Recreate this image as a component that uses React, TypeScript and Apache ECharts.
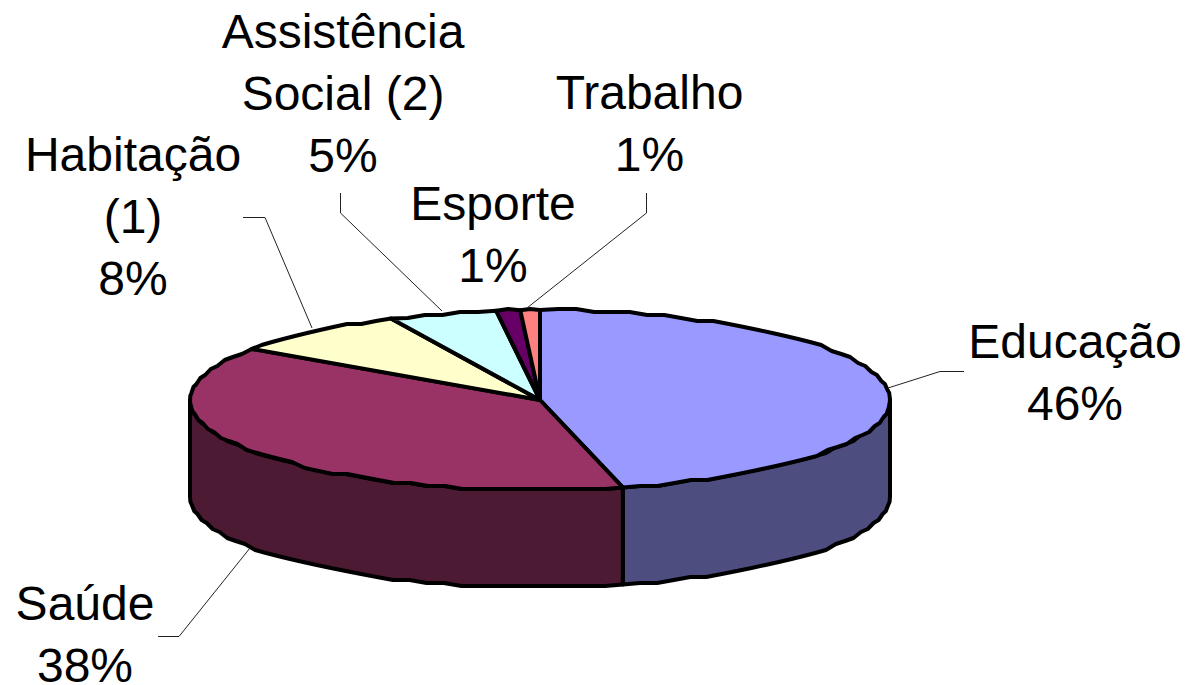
import React, { useEffect, useRef } from "react";
import * as echarts from "echarts";

const categories = ["Educação", "Saúde", "Habitação (1)", "Assistência Social (2)", "Esporte", "Trabalho"];
const values = [46.2, 38.4, 8.4, 5.0, 1.1, 0.9];
const topColors = ["#9999FF", "#993366", "#FFFFCC", "#CCFFFF", "#660066", "#FF8080"];
const wallColors = ["#4D4D80", "#4D1A33", "#808066", "#668080", "#330033", "#804040"];
const labelLines = [
  ["Educação"],
  ["Saúde"],
  ["Habitação", "(1)"],
  ["Assistência", "Social (2)"],
  ["Esporte"],
  ["Trabalho"],
];

const CX = 540, CY = 400, RX = 350, RY = 90, DEPTH = 97;
const SNAP = 3;
const labelPos = [
  [1075, 372.5], [85, 634.5], [133, 216.5], [343, 93], [493, 234], [649.5, 123],
];
const leaders = [
  [[888, 388], [940, 371.5], [964, 371.5]],
  [[158, 636.5], [179, 636.5], [250, 548]],
  [[243, 217.5], [265, 217.5], [312, 328]],
  [[340.5, 193], [340.5, 213], [442, 311]],
  [],
  [[646.5, 193], [646.5, 213], [527, 308]],
];

const total = values.reduce((a, b) => a + b, 0);
const pct = (v: number) => `${Math.round((v / total) * 100)}%`;

function arc(a: number, b: number, dy = 0): number[][] {
  const out: number[][] = [];
  const n = Math.max(1, Math.ceil((b - a) / 3));
  for (let i = 0; i <= n; i++) {
    const d = a + ((b - a) * i) / n;
    const r = (d * Math.PI) / 180;
    const x = CX + RX * Math.sin(r);
    const y = CY - RY * Math.cos(r);
    const snapped = i === 0 || i === n ? y : Math.round(y / SNAP) * SNAP;
    out.push([x, snapped + dy]);
  }
  return out;
}

export default function App() {
  const ref = useRef<HTMLDivElement>(null);
  useEffect(() => {
    document.body.style.margin = "0";
    const chart = echarts.init(ref.current!, undefined, { renderer: "svg" });
    const strokeStyle = { stroke: "#000", lineWidth: 4, lineJoin: "round" as const };
    const renderItem = (params: any, api: any) => {
      const i = params.dataIndex;
      const v = api.value(0);
      let before = 0;
      for (let k = 0; k < i; k++) before += values[k];
      const a = (before / total) * 360;
      const b = ((before + v) / total) * 360;
      const children: any[] = [];
      const wa = Math.max(a, 90), wb = Math.min(b, 270);
      if (wb > wa) {
        const top = arc(wa, wb);
        const bot = arc(wa, wb, DEPTH).reverse();
        children.push({
          type: "polygon",
          z2: 1,
          shape: { points: [...top, ...bot] },
          style: { fill: wallColors[i], ...strokeStyle },
        });
      }
      children.push({
        type: "polygon",
        z2: 2,
        shape: { points: [[CX, CY], ...arc(a, b)] },
        style: { fill: topColors[i], ...strokeStyle },
      });
      return { type: "group", children };
    };
    const graphics: any[] = [];
    categories.forEach((_, i) => {
      const lines = [...labelLines[i], pct(values[i])];
      graphics.push({
        type: "text",
        x: labelPos[i][0],
        y: labelPos[i][1],
        z: 10,
        style: {
          text: lines.join("\n"),
          font: '48px "Liberation Sans", Arial, sans-serif',
          fill: "#000",
          align: "center",
          verticalAlign: "middle",
          lineHeight: 62,
        },
      });
      if (leaders[i].length) {
        graphics.push({
          type: "polyline",
          z: 5,
          shape: { points: leaders[i] },
          style: { stroke: "#222", lineWidth: 1, fill: "none" },
        });
      }
    });
    chart.setOption({
      animation: false,
      backgroundColor: "#fff",
      tooltip: { show: false },
      series: [
        {
          type: "custom",
          coordinateSystem: "none",
          silent: true,
          renderItem,
          data: values.map((v, i) => ({ name: categories[i], value: [v] })),
        },
      ],
      graphic: graphics,
    });
    return () => chart.dispose();
  }, []);
  return <div ref={ref} style={{ width: 1186, height: 685 }} />;
}
